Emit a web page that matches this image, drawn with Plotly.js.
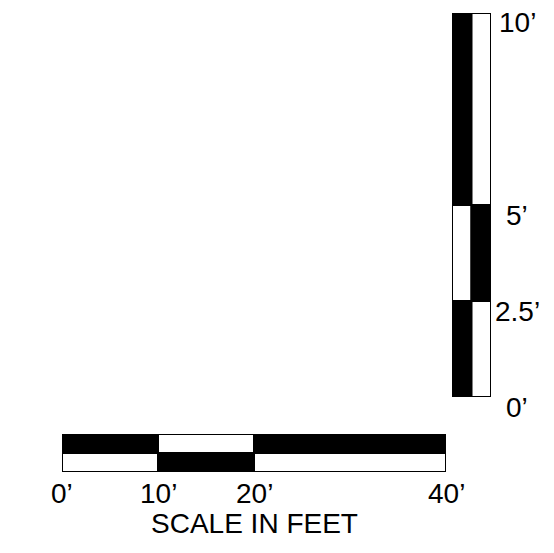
<!DOCTYPE html>
<html>
<head>
<meta charset="utf-8">
<script src="https://cdn.plot.ly/plotly-3.0.1.min.js"></script>
<style>html,body{margin:0;padding:0;background:#fff;}#chart{width:554px;height:553px;}</style>
</head>
<body>
<div id="chart"></div>
<script>
// Horizontal scale (feet)
const hStarts = [0, 10, 20];
const hEnds = [10, 20, 40];
const hTopColors = ['black', 'white', 'black'];
const hBottomColors = ['white', 'black', 'white'];
const hTicks = [0, 10, 20, 40];
const hTickLabels = ['0’', '10’', '20’', '40’'];
const hTitle = 'SCALE IN FEET';

// Vertical scale (feet)
const vStarts = [0, 2.5, 5];
const vEnds = [2.5, 5, 10];
const vLeftColors = ['black', 'white', 'black'];
const vRightColors = ['white', 'black', 'white'];
const vTicks = [0, 2.5, 5, 10];
const vTickLabels = ['0’', '2.5’', '5’', '10’'];

const W = 554, H = 553;
const px = v => v / W;
const py = v => (H - v) / H;

const lens = (s, e) => s.map((v, i) => e[i] - v);
const lineStyle = {color: 'black', width: 2};

const traces = [
  {type: 'bar', orientation: 'h', x: lens(hStarts, hEnds), base: hStarts,
   y: hStarts.map(() => 1.5), width: 1, marker: {color: hTopColors, line: lineStyle},
   xaxis: 'x', yaxis: 'y', hoverinfo: 'none', showlegend: false},
  {type: 'bar', orientation: 'h', x: lens(hStarts, hEnds), base: hStarts,
   y: hStarts.map(() => 0.5), width: 1, marker: {color: hBottomColors, line: lineStyle},
   xaxis: 'x', yaxis: 'y', hoverinfo: 'none', showlegend: false},
  {type: 'bar', x: vStarts.map(() => 0.5), y: lens(vStarts, vEnds), base: vStarts,
   width: 1, marker: {color: vLeftColors, line: lineStyle},
   xaxis: 'x2', yaxis: 'y2', hoverinfo: 'none', showlegend: false},
  {type: 'bar', x: vStarts.map(() => 1.5), y: lens(vStarts, vEnds), base: vStarts,
   width: 1, marker: {color: vRightColors, line: lineStyle},
   xaxis: 'x2', yaxis: 'y2', hoverinfo: 'none', showlegend: false}
];

const hidden = {showgrid: false, zeroline: false, showticklabels: false, showline: false, ticks: '', fixedrange: true};
const font = {family: 'Liberation Sans, Arial, sans-serif', size: 28, color: 'black'};

const annotations = [];
hTicks.forEach((t, i) => annotations.push({
  x: t, xref: 'x', y: py(493), yref: 'paper', text: hTickLabels[i],
  showarrow: false, xanchor: 'center', yanchor: 'middle', font: font
}));
annotations.push({
  x: 20, xref: 'x', y: py(523), yref: 'paper', text: hTitle,
  showarrow: false, xanchor: 'center', yanchor: 'middle', font: font
});
vTicks.forEach((t, i) => annotations.push({
  x: px(517), xref: 'paper', y: t, yref: 'y2', yshift: -10, text: vTickLabels[i],
  showarrow: false, xanchor: 'center', yanchor: 'middle', font: font
}));

const layout = {
  width: W, height: H,
  margin: {l: 0, r: 0, t: 0, b: 0},
  paper_bgcolor: 'white', plot_bgcolor: 'rgba(0,0,0,0)',
  barmode: 'overlay',
  xaxis: Object.assign({domain: [px(62), px(446)], range: [0, 40]}, hidden),
  yaxis: Object.assign({domain: [py(472), py(434)], range: [0, 2]}, hidden),
  xaxis2: Object.assign({domain: [px(452), px(491)], range: [0, 2], anchor: 'y2'}, hidden),
  yaxis2: Object.assign({domain: [py(397), py(13)], range: [0, 10], anchor: 'x2'}, hidden),
  annotations: annotations
};

Plotly.newPlot('chart', traces, layout, {displayModeBar: false, staticPlot: true});
</script>
</body>
</html>
